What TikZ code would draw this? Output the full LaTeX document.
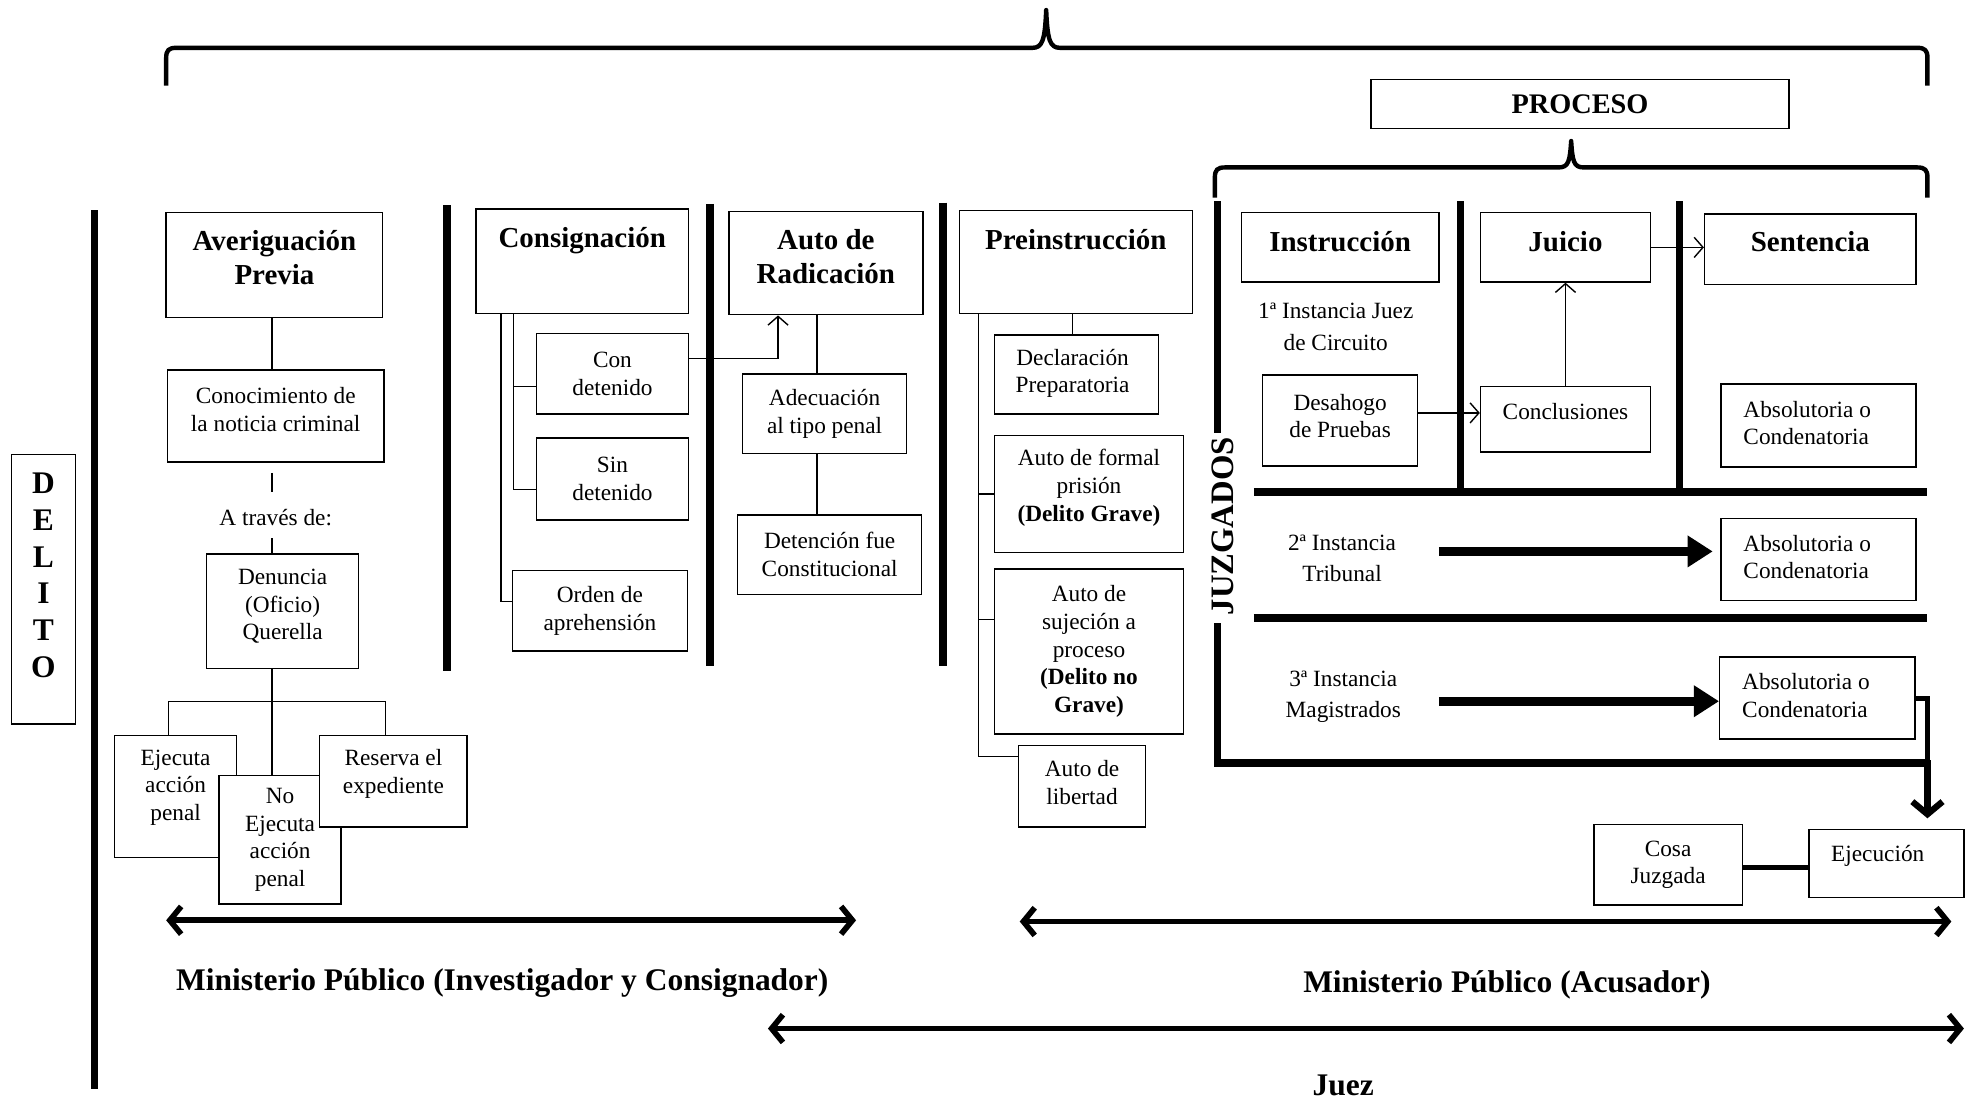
\documentclass[tikz,border=0pt]{standalone}
\usepackage{fontspec}
\setmainfont{Liberation Serif}
\usetikzlibrary{arrows.meta}
\newcommand\myBody{\fontsize{18.5}{22}\selectfont}
\newcommand\myInst{\fontsize{18.5}{25}\selectfont}
\newcommand\myHdr{\bfseries\fontsize{23}{27}\selectfont}
\newcommand\myBig{\bfseries\fontsize{25}{30}\selectfont}
\begin{document}
\begin{tikzpicture}[x=1pt,y=-1pt,
  box/.style={draw, line width=1.1pt, fill=white, inner sep=0pt, align=center, font=\myBody},
  blbl/.style={font=\myBody, align=center},
  albl/.style={font=\myBody, align=left},
  hlbl/.style={font=\myHdr, align=center},
  dlbl/.style={font=\bfseries\fontsize{25}{29.2}\selectfont, align=center},
  txt/.style={font=\myInst, align=center, inner sep=0pt},
  ln/.style={line width=1.1pt},
  thk/.style={line width=6pt},
  brc/.style={line width=3.5pt, line join=round},
  thinarr/.style={line width=1.1pt, -{Straight Barb[length=7pt,width=16pt,line width=1.1pt]}},
  bigdbl/.style={line width=4.5pt, {Straight Barb[length=9pt,width=22pt]}-{Straight Barb[length=9pt,width=22pt]}},
  fatarr/.style={line width=7pt, -{Triangle[length=20pt,width=24pt]}},
  downarr/.style={line width=5pt, -{Straight Barb[length=10pt,width=24pt]}},
  biglbl/.style={font=\myBig, inner sep=0pt}
]
\useasboundingbox[fill=white] (0,0) rectangle (1568,875);

% ---------- braces ----------
\draw[brc] (132,68) -- (132,46) .. controls (132,40) and (134,38) .. (140,38)
  -- (820,38) .. controls (828,38) and (830,32) .. (831,8)
  .. controls (832,32) and (834,38) .. (842,38)
  -- (1523,38) .. controls (1529,38) and (1531,40) .. (1531,46) -- (1531,68);
\draw[brc] (965,157) -- (965,141) .. controls (965,135) and (967,133) .. (973,133)
  -- (1238,133) .. controls (1246,133) and (1247,128) .. (1248,112)
  .. controls (1249,128) and (1250,133) .. (1258,133)
  -- (1523,133) .. controls (1529,133) and (1531,135) .. (1531,141) -- (1531,157);

\node[box, minimum width=332, minimum height=39, font=\bfseries\fontsize{22.5}{27}\selectfont] (proc) at (1255,82.5) {PROCESO};

% ---------- DELITO ----------
\node[box, minimum width=51, minimum height=214, label={[dlbl,yshift=11pt]center:D\\E\\L\\I\\T\\O}] (delito) at (34.5,468) {};

% ---------- thick separators ----------
\draw[thk] (75,167) -- (75,865);
\draw[thk] (355,163) -- (355,533);
\draw[thk] (564,162) -- (564,529);
\draw[thk] (749,161) -- (749,529);

% ---------- Averiguacion previa ----------
\node[box, minimum width=172, minimum height=83, label={[hlbl,yshift=6pt]center:Averiguación\\Previa}] (avp) at (218,210.5) {};
\node[box, minimum width=172, minimum height=73, label={[blbl,yshift=5pt]center:Conocimiento de\\la noticia criminal}] (cono) at (219,330.5) {};
\node[txt, font=\myBody] (atraves) at (219,411) {A través de:};
\node[box, minimum width=121, minimum height=91, label={[blbl,yshift=4pt]center:Denuncia\\(Oficio)\\Querella}] (den) at (224.5,485.5) {};
\node[box, minimum width=97, minimum height=97, label={[blbl,yshift=7pt]center:Ejecuta\\acción\\penal}] (eje) at (139.5,632.5) {};
\node[box, minimum width=97, minimum height=102] (noeje) at (222.5,667) {No\\Ejecuta\\acción\\penal};
\node[box, minimum width=117, minimum height=73, label={[blbl,yshift=6pt]center:Reserva el\\expediente}] (res) at (312.5,620.5) {};

\coordinate (trunk) at (216,557);
\coordinate (jl) at (134,557);
\coordinate (jr) at (306,557);
\draw[ln] (avp.south -| trunk) -- (cono.north -| trunk);
\draw[ln] (cono.south -| trunk) ++(0,8) -- ++(0,15);
\draw[ln] (den.north -| trunk) -- ++(0,-12);
\draw[ln] (den.south -| trunk) -- (noeje.north -| trunk);
\draw[ln] (eje.north -| jl) -- (jl) -- (jr) -- (res.north -| jr);

% ---------- Consignacion ----------
\node[box, minimum width=169, minimum height=83, label={[hlbl,yshift=16pt]center:Consignación}] (cons) at (462.5,207.5) {};
\node[box, minimum width=121, minimum height=64] (con) at (486.5,297) {Con\\detenido};
\node[box, minimum width=121, minimum height=65] (sin) at (486.5,380.5) {Sin\\detenido};
\node[box, minimum width=139, minimum height=64] (ord) at (476.5,485) {Orden de\\aprehensión};
\coordinate (ca) at (398,0);
\coordinate (cb) at (408,0);
\coordinate (conT) at ([yshift=-10pt]con.west);
\coordinate (sinT) at ([yshift=-8.5pt]sin.west);
\coordinate (ordT) at ([yshift=7pt]ord.west);
\draw[ln] (cons.south -| cb) -- (cb |- sinT) -- (sinT);
\draw[ln] (cb |- conT) -- (conT);
\draw[ln] (cons.south -| ca) -- (ca |- ordT) -- (ordT);

% ---------- Auto de radicacion ----------
\node[box, minimum width=154, minimum height=82, label={[hlbl,yshift=5pt]center:Auto de\\Radicación}] (rad) at (656,209) {};
\node[box, minimum width=130, minimum height=63] (adec) at (655,328.5) {Adecuación\\al tipo penal};
\node[box, minimum width=146, minimum height=63] (det) at (659,440.5) {Detención fue\\Constitucional};
\coordinate (rx) at (649,0);
\draw[ln] (rad.south -| rx) -- (adec.north -| rx);
\draw[ln] (adec.south -| rx) -- (det.north -| rx);
\coordinate (conR) at ([yshift=12pt]con.east);
\coordinate (radA) at ([xshift=-38pt]rad.south);
\draw[thinarr] (conR) -| (radA);

% ---------- Preinstruccion ----------
\node[box, minimum width=185, minimum height=82, label={[hlbl,yshift=18pt]center:Preinstrucción}] (pre) at (854.5,208) {};
\node[box, minimum width=130, minimum height=63, label={[blbl,xshift=-3pt,yshift=1pt]center:Declaración\\Preparatoria}] (decl) at (855,297.5) {};
\node[box, minimum width=150, minimum height=93, label={[blbl,yshift=5pt]center:Auto de formal\\prisión\\\textbf{(Delito Grave)}}] (formal) at (865,392.5) {};
\node[box, minimum width=150, minimum height=131] (suj) at (865,517.5) {Auto de\\sujeción a\\proceso\\\textbf{(Delito no}\\\textbf{Grave)}};
\node[box, minimum width=101, minimum height=65, label={[blbl,yshift=3pt]center:Auto de\\libertad}] (lib) at (859.5,624.5) {};
\coordinate (px) at (852,0);
\coordinate (pv) at (777,0);
\coordinate (sujT) at ([yshift=25.5pt]suj.west);
\coordinate (libT) at ([yshift=23.5pt]lib.west);
\draw[ln] (pre.south -| px) -- (decl.north -| px);
\draw[ln] (pre.south -| pv) -- (pv |- libT) -- (libT);
\draw[ln] (pv |- formal.west) -- (formal.west);
\draw[ln] (pv |- sujT) -- (sujT);

% ---------- JUZGADOS ----------
\node[font=\bfseries\fontsize{26}{30}\selectfont, rotate=90, inner sep=0pt] (juz) at (971,418) {JUZGADOS};
\draw[thk] (967,160) -- (967,344);
\draw[thk] (967,495) -- (967,606) -- (1531,606);
\draw[thk] (1160,160) -- (1160,388);
\draw[thk] (1334,160) -- (1334,388);
\draw[thk] (996,391) -- (1531,391);
\draw[thk] (996,491) -- (1531,491);

\node[box, minimum width=157, minimum height=55, label={[hlbl,yshift=4.5pt]center:Instrucción}] (inst) at (1064.5,196.5) {};
\node[txt] (primera) at (1061,259.5) {1ª Instancia Juez\\de Circuito};
\node[box, minimum width=123, minimum height=72, label={[blbl,yshift=3.5pt]center:Desahogo\\de Pruebas}] (desa) at (1064.5,334) {};
\node[box, minimum width=135, minimum height=55, label={[hlbl,yshift=4.5pt]center:Juicio}] (jui) at (1243.5,196.5) {};
\node[box, minimum width=135, minimum height=52, label={[blbl,yshift=6pt]center:Conclusiones}] (concl) at (1243.5,333) {};
\node[box, minimum width=168, minimum height=56, label={[hlbl,yshift=6pt]center:Sentencia}] (sen) at (1438,198) {};
\node[box, minimum width=155, minimum height=66, label={[albl,xshift=-9pt,yshift=2pt]center:Absolutoria o\\Condenatoria}] (abs1) at (1444.5,338) {};
\node[txt] (segunda) at (1066,443.5) {2ª Instancia\\Tribunal};
\node[box, minimum width=155, minimum height=65, label={[albl,xshift=-9pt,yshift=2pt]center:Absolutoria o\\Condenatoria}] (abs2) at (1444.5,444.5) {};
\node[txt] (tercera) at (1067,553.5) {3ª Instancia\\Magistrados};
\node[box, minimum width=155, minimum height=65, label={[albl,xshift=-9pt,yshift=2pt]center:Absolutoria o\\Condenatoria}] (abs3) at (1443.5,554.5) {};

\coordinate (dy) at ([yshift=6pt]desa.east);
\draw[thinarr] (dy) -- (dy -| concl.west);
\draw[thinarr] (concl.north) -- (jui.south);
\draw[thinarr] (jui.east) -- (jui.east -| sen.west);

\coordinate (a2s) at (1143,438);
\coordinate (a3s) at (1143,557);
\draw[fatarr, shorten >=6pt] (a2s) -- (a2s -| abs2.west);
\draw[fatarr] (a3s) -- (a3s -| abs3.west);

\coordinate (dn) at (1531,650);
\draw[line width=4pt] (abs3.east) -- (dn |- abs3.east) -- (dn |- a3s) -- (1531,606);
\draw[downarr] (1531,604) -- (dn);

\node[box, minimum width=118, minimum height=64] (cosa) at (1325,687) {Cosa\\Juzgada};
\node[box, minimum width=123, minimum height=54, label={[blbl,xshift=-7pt,yshift=6pt]center:Ejecución}] (ejec) at (1498.5,686) {};
\draw[line width=4pt] ([yshift=-2pt]cosa.east) -- ([yshift=-2pt]cosa.east -| ejec.west);

% ---------- bottom ----------
\coordinate (m1a) at (132,731); \coordinate (m1b) at (680,731);
\coordinate (m2a) at (810,732); \coordinate (m2b) at (1550,732);
\coordinate (m3a) at (610,817); \coordinate (m3b) at (1560,817);
\draw[bigdbl] (m1a) -- (m1b);
\draw[bigdbl] (m2a) -- (m2b);
\draw[bigdbl] (m3a) -- (m3b);
\node[biglbl] (mp1) at (399,781) {Ministerio Público (Investigador y Consignador)};
\node[biglbl] (mp2) at (1197,782) {Ministerio Público (Acusador)};
\node[biglbl] (juez) at (1067,862) {Juez};
\end{tikzpicture}
\end{document}
